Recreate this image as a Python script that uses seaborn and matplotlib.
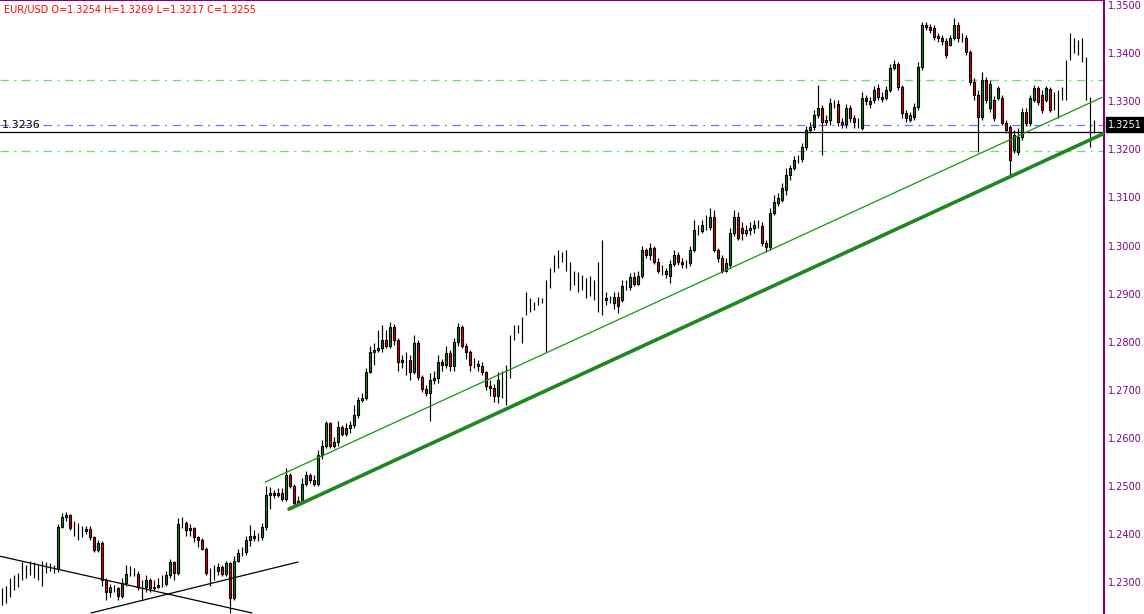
import matplotlib
matplotlib.use("Agg")
import matplotlib.pyplot as plt
import matplotlib.transforms as mtransforms
import numpy as np
import pandas as pd
import seaborn as sns

# EUR/USD bars, prices in pips above 1.2000, one entry per bar
bar_open = [264, 272, 289, 297, 306, 322, 318, 331, 327, 322, 331, 329, 331, 329, 327, 414, 435, 439, 412, 410,
            408, 406, 410, 393, 366, 381, 304, 279, 289, 287, 272, 299, 318, 320, 318, 289, 291, 304, 287, 291,
            295, 297, 314, 341, 320, 422, 424, 408, 412, 393, 387, 370, 320, 322, 324, 331, 318, 339, 268, 345,
            360, 362, 387, 397, 391, 393, 414, 482, 485, 482, 485, 472, 522, 501, 464, 468, 505, 522, 512, 505,
            564, 584, 630, 584, 591, 622, 609, 620, 626, 647, 678, 684, 736, 778, 782, 786, 803, 792, 830, 803,
            757, 761, 763, 736, 797, 726, 701, 693, 720, 724, 757, 751, 776, 749, 799, 830, 792, 778, 751, 753,
            749, 736, 707, 703, 688, 716, 713, 761, 819, 826, 824, 876, 876, 874, 884, 886, 886, 930, 965, 973,
            975, 967, 948, 936, 928, 923, 917, 913, 907, 896, 903, 890, 886, 880, 892, 886, 915, 913, 934, 921,
            936, 990, 980, 994, 965, 948, 946, 936, 961, 980, 965, 961, 963, 990, 1032, 1030, 1042, 1038, 1059, 990,
            975, 948, 959, 1025, 1059, 1036, 1025, 1032, 1036, 1042, 1040, 1005, 996, 1067, 1088, 1094, 1115, 1146, 1161, 1177,
            1179, 1204, 1240, 1246, 1271, 1285, 1256, 1260, 1296, 1294, 1256, 1252, 1285, 1265, 1256, 1244, 1306, 1300, 1302, 1327,
            1308, 1306, 1323, 1369, 1377, 1329, 1275, 1260, 1267, 1287, 1371, 1458, 1454, 1452, 1435, 1431, 1425, 1416, 1431, 1458,
            1431, 1431, 1402, 1339, 1312, 1267, 1344, 1285, 1302, 1306, 1306, 1254, 1246, 1198, 1194, 1225, 1277, 1254, 1302, 1327,
            1312, 1302, 1325, 1302, 1308, 1319, 1354, 1416, 1416, 1414, 1416, 1364, 1250, 1252]
bar_high = [287, 293, 308, 314, 320, 341, 335, 345, 341, 335, 345, 341, 339, 335, 420, 443, 445, 441, 428, 424,
            416, 416, 416, 397, 387, 385, 308, 297, 295, 291, 308, 335, 333, 329, 324, 304, 314, 308, 304, 308,
            314, 324, 349, 345, 433, 435, 428, 420, 414, 397, 391, 374, 329, 335, 339, 335, 345, 341, 354, 368,
            374, 397, 418, 408, 403, 424, 501, 497, 491, 495, 495, 537, 526, 505, 480, 516, 532, 528, 522, 574,
            595, 636, 634, 601, 636, 626, 630, 636, 668, 686, 693, 745, 792, 797, 824, 834, 824, 840, 836, 807,
            772, 778, 772, 813, 803, 730, 709, 734, 740, 772, 765, 792, 782, 807, 838, 834, 797, 782, 767, 761,
            757, 740, 720, 713, 736, 740, 751, 813, 834, 834, 851, 903, 890, 882, 892, 890, 928, 953, 980, 990,
            986, 990, 965, 948, 944, 938, 932, 936, 928, 965, 1011, 903, 896, 903, 903, 928, 928, 942, 944, 948,
            1000, 994, 1005, 1000, 973, 959, 953, 969, 990, 986, 973, 969, 1000, 1052, 1042, 1052, 1063, 1077, 1073, 994,
            980, 973, 1036, 1073, 1069, 1048, 1042, 1048, 1052, 1052, 1048, 1011, 1077, 1104, 1109, 1129, 1161, 1167, 1186, 1188,
            1213, 1248, 1256, 1281, 1333, 1292, 1271, 1306, 1302, 1302, 1265, 1294, 1292, 1271, 1265, 1319, 1312, 1308, 1331, 1335,
            1319, 1331, 1377, 1385, 1381, 1333, 1281, 1277, 1296, 1381, 1464, 1464, 1460, 1458, 1441, 1437, 1431, 1437, 1472, 1464,
            1441, 1437, 1406, 1348, 1323, 1360, 1350, 1344, 1310, 1331, 1312, 1260, 1250, 1240, 1244, 1285, 1285, 1312, 1333, 1331,
            1323, 1331, 1329, 1319, 1323, 1329, 1385, 1441, 1431, 1427, 1431, 1391, 1308, 1260]
bar_low = [252, 256, 270, 283, 291, 304, 308, 314, 308, 304, 293, 320, 324, 320, 322, 412, 428, 408, 397, 387,
           395, 401, 387, 362, 362, 293, 262, 270, 279, 262, 268, 293, 312, 312, 283, 262, 279, 279, 283, 287,
           289, 293, 308, 304, 314, 412, 397, 397, 383, 374, 366, 314, 293, 304, 314, 312, 312, 235, 262, 341,
           354, 356, 376, 385, 385, 387, 408, 453, 476, 478, 468, 468, 495, 460, 460, 462, 501, 507, 501, 501,
           557, 578, 580, 578, 584, 603, 603, 611, 620, 641, 674, 678, 734, 751, 778, 778, 786, 786, 794, 740,
           745, 730, 720, 732, 720, 695, 688, 636, 713, 715, 740, 745, 740, 740, 792, 786, 765, 740, 745, 740,
           730, 699, 688, 674, 672, 682, 668, 724, 803, 819, 797, 855, 861, 865, 876, 880, 778, 911, 944, 953,
           965, 948, 907, 917, 903, 907, 890, 894, 886, 861, 855, 876, 880, 869, 859, 882, 907, 907, 915, 917,
           932, 973, 969, 961, 942, 938, 932, 923, 957, 959, 953, 953, 957, 986, 1021, 1025, 1032, 1032, 986, 965,
           942, 944, 953, 1019, 1011, 1011, 1019, 1021, 1027, 1036, 998, 986, 990, 1063, 1082, 1090, 1104, 1136, 1156, 1171,
           1173, 1198, 1233, 1240, 1265, 1188, 1250, 1250, 1285, 1248, 1244, 1244, 1256, 1244, 1244, 1240, 1292, 1285, 1296, 1302,
           1298, 1302, 1319, 1364, 1323, 1265, 1256, 1256, 1260, 1281, 1364, 1448, 1441, 1427, 1423, 1416, 1389, 1414, 1427, 1423,
           1423, 1396, 1333, 1302, 1194, 1260, 1296, 1277, 1258, 1302, 1250, 1233, 1142, 1192, 1188, 1219, 1248, 1248, 1298, 1292,
           1275, 1298, 1277, 1281, 1265, 1302, 1302, 1385, 1400, 1396, 1381, 1302, 1204, 1233]
bar_close = [266, 274, 291, 299, 308, 324, 320, 333, 329, 324, 333, 331, 333, 327, 414, 435, 439, 412, 410, 408,
             406, 410, 393, 366, 381, 304, 279, 289, 287, 272, 299, 318, 320, 318, 289, 291, 304, 287, 291, 295,
             297, 314, 341, 320, 422, 424, 408, 412, 393, 387, 370, 320, 322, 324, 331, 318, 339, 268, 345, 360,
             362, 387, 397, 391, 393, 414, 482, 485, 482, 485, 472, 522, 501, 464, 468, 505, 522, 512, 505, 564,
             584, 630, 584, 591, 622, 609, 620, 626, 647, 678, 684, 736, 778, 782, 786, 803, 792, 830, 803, 757,
             761, 763, 736, 797, 726, 701, 693, 720, 724, 757, 751, 776, 749, 799, 830, 792, 778, 751, 753, 749,
             736, 707, 703, 688, 720, 714, 715, 763, 821, 828, 826, 878, 878, 876, 886, 887, 888, 932, 967, 975,
             977, 965, 946, 934, 926, 921, 915, 911, 905, 898, 901, 886, 888, 892, 874, 915, 917, 934, 921, 936,
             990, 980, 994, 965, 948, 946, 940, 961, 980, 965, 961, 963, 990, 1032, 1030, 1042, 1040, 1059, 990, 975,
             948, 963, 1025, 1059, 1015, 1025, 1032, 1036, 1042, 1044, 1005, 996, 1067, 1090, 1098, 1119, 1146, 1161, 1177, 1179,
             1204, 1240, 1246, 1271, 1285, 1256, 1260, 1296, 1294, 1256, 1252, 1285, 1265, 1256, 1254, 1306, 1300, 1294, 1323, 1308,
             1304, 1323, 1369, 1377, 1329, 1275, 1265, 1271, 1287, 1371, 1458, 1454, 1448, 1433, 1431, 1425, 1396, 1431, 1458, 1431,
             1433, 1402, 1339, 1312, 1267, 1344, 1302, 1335, 1265, 1327, 1254, 1240, 1177, 1229, 1225, 1277, 1254, 1306, 1327, 1298,
             1281, 1327, 1281, 1300, 1306, 1317, 1356, 1418, 1414, 1416, 1414, 1362, 1248, 1251]

symbol_info = "EUR/USD O=1.3254 H=1.3269 L=1.3217 C=1.3255"
level_line = 1.3236
bid_price = 1.3251
green_levels = [1.3344, 1.3196]

# trend lines, anchors as (bar index, price)
channel_thin_x = [65.75, 275.0]
channel_thin_y = [1.2508, 1.3308]
channel_thick_x = [71.75, 275.5]
channel_thick_y = [1.2452, 1.3233]
wedge_down_x = [-0.5, 62.5]
wedge_down_y = [1.2354, 1.2236]
wedge_up_x = [22.25, 74.0]
wedge_up_y = [1.2236, 1.2342]

tick_labels = ["1.2300", "1.2400", "1.2500", "1.2600", "1.2700", "1.2800", "1.2900",
               "1.3000", "1.3100", "1.3200", "1.3300", "1.3400", "1.3500"]

sns.set_theme(style="white")
plt.rcParams["font.family"] = ["DejaVu Sans"]
plt.rcParams["lines.scale_dashes"] = False

df = pd.DataFrame({"open": bar_open, "high": bar_high, "low": bar_low, "close": bar_close}) * 0.0001 + 1.2
df["bar"] = np.arange(len(df))

purple = "#800080"
fig = plt.figure(figsize=(11.44, 6.14), dpi=100)
ax = fig.add_axes([0, 0, 1104 / 1144, 1])
ax.set_facecolor("white")

# wicks
ax.vlines(df["bar"], df["low"], df["high"], color="black", linewidth=0.85, zorder=2)

# bodies (bars with almost no body are drawn as plain lines)
body = df[(df["close"] - df["open"]).abs() > 0.00025]
up = body[body["close"] > body["open"]]
down = body[body["close"] < body["open"]]
ax.bar(up["bar"], up["close"] - up["open"], bottom=up["open"], width=0.72,
       color="#0f860f", edgecolor="black", linewidth=0.8, zorder=3)
ax.bar(down["bar"], down["open"] - down["close"], bottom=down["close"], width=0.72,
       color="#ee0000", edgecolor="black", linewidth=0.8, zorder=3)

# horizontal levels
dashdot = (0, (6, 4, 1.5, 4))
for lv in green_levels:
    ax.axhline(lv, color="#66e066", linewidth=0.9, linestyle=dashdot, zorder=1)
ax.axhline(bid_price, color="#7070ff", linewidth=0.9, linestyle=dashdot, zorder=1)
ax.axhline(level_line, color="black", linewidth=0.9, zorder=4)

# trend lines
sns.lineplot(x=channel_thin_x, y=channel_thin_y, ax=ax, color="#109a10", linewidth=0.9, zorder=5)
sns.lineplot(x=channel_thick_x, y=channel_thick_y, ax=ax, color="#1f871f", linewidth=2.6, zorder=5)
sns.lineplot(x=wedge_down_x, y=wedge_down_y, ax=ax, color="black", linewidth=0.9, zorder=5)
sns.lineplot(x=wedge_up_x, y=wedge_up_y, ax=ax, color="black", linewidth=0.9, zorder=5)

ax.set_xlim(-0.5, 275.5)
ax.set_ylim(1.22339, 1.35104)
ax.set_xlabel("")
ax.set_ylabel("")
ax.set_xticks([])

ax.yaxis.tick_right()
ax.set_yticks([float(t) for t in tick_labels])
ax.set_yticklabels(tick_labels, color=purple, fontsize=7)
ax.tick_params(axis="y", length=0, pad=3)

for side in ["left", "bottom"]:
    ax.spines[side].set_visible(False)
for side in ["top", "right"]:
    ax.spines[side].set_visible(True)
    ax.spines[side].set_color(purple)
    ax.spines[side].set_linewidth(1.5)

mixed = mtransforms.blended_transform_factory(ax.transAxes, ax.transData)
ax.annotate(f"{level_line:.4f}", xy=(0, level_line), xycoords=mixed, xytext=(1.5, 3),
            textcoords="offset points", fontsize=8, color="black", va="baseline", ha="left")
ax.annotate(f"{bid_price:.4f}", xy=(1, bid_price), xycoords=mixed, xytext=(3, 0),
            textcoords="offset points", fontsize=7, color="white", va="center", ha="left",
            bbox=dict(boxstyle="square,pad=0.25", fc="black", ec="black"), annotation_clip=False)

fig.text(4 / 1144, 1 - 10 / 614, symbol_info, color="#ff0000", fontsize=7, va="center", ha="left")

fig.savefig("out.png", dpi=100, facecolor="white")
